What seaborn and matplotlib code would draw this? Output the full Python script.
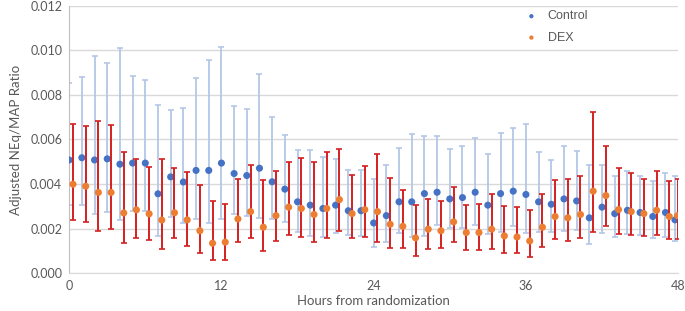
# plot.py
# Adjusted NEq/MAP ratio over the first 48 hours, Control vs DEX
# with per-hour error bars (asymmetric low / high bounds).

import numpy as np
import pandas as pd
import matplotlib
matplotlib.use("Agg")
import matplotlib.pyplot as plt
import seaborn as sns

# ---- data ----
hours = list(range(49))
# x positions as plotted (DEX is nudged right, last points crowd the axis end)
control_x = hours[:48] + [47.75]
dex_x = [h + 0.3 for h in hours[:48]] + [47.95]

control_mean = [0.00508, 0.00518, 0.00508, 0.00513, 0.00489, 0.00494, 0.00494, 0.00356,
                0.00432, 0.00409, 0.00461, 0.00461, 0.00494, 0.00447, 0.00438, 0.00471,
                0.00410, 0.00377, 0.00320, 0.00305, 0.00290, 0.00305, 0.00280, 0.00280,
                0.00225, 0.00258, 0.00320, 0.00320, 0.00357, 0.00363, 0.00333, 0.00339,
                0.00363, 0.00305, 0.00357, 0.00368, 0.00353, 0.00320, 0.00309, 0.00333,
                0.00324, 0.00248, 0.00296, 0.00267, 0.00282, 0.00272, 0.00254, 0.00272,
                0.00239]
control_high = [0.00854, 0.00879, 0.00974, 0.00944, 0.01011, 0.00884, 0.00865, 0.00754,
                0.00731, 0.00740, 0.00874, 0.00959, 0.01016, 0.00749, 0.00738, 0.00896,
                0.00703, 0.00622, 0.00552, 0.00552, 0.00522, 0.00513, 0.00465, 0.00465,
                0.00423, 0.00485, 0.00563, 0.00623, 0.00614, 0.00614, 0.00558, 0.00572,
                0.00605, 0.00533, 0.00629, 0.00653, 0.00670, 0.00543, 0.00509, 0.00572,
                0.00547, 0.00486, 0.00486, 0.00438, 0.00458, 0.00438, 0.00414, 0.00449,
                0.00438]
control_low = [0.00305, 0.00305, 0.00266, 0.00276, 0.00238, 0.00281, 0.00281, 0.00166,
               0.00252, 0.00225, 0.00243, 0.00225, 0.00243, 0.00266, 0.00258, 0.00248,
               0.00245, 0.00230, 0.00186, 0.00167, 0.00162, 0.00182, 0.00171, 0.00167,
               0.00119, 0.00138, 0.00182, 0.00162, 0.00167, 0.00215, 0.00201, 0.00201,
               0.00215, 0.00177, 0.00186, 0.00210, 0.00182, 0.00186, 0.00186, 0.00190,
               0.00195, 0.00129, 0.00182, 0.00162, 0.00177, 0.00171, 0.00158, 0.00162,
               0.00144]

dex_mean = [0.00399, 0.00390, 0.00362, 0.00362, 0.00270, 0.00284, 0.00266, 0.00238,
            0.00271, 0.00239, 0.00190, 0.00134, 0.00139, 0.00243, 0.00276, 0.00206,
            0.00258, 0.00296, 0.00290, 0.00263, 0.00290, 0.00330, 0.00267, 0.00285,
            0.00276, 0.00219, 0.00210, 0.00158, 0.00197, 0.00190, 0.00230, 0.00182,
            0.00182, 0.00197, 0.00167, 0.00162, 0.00144, 0.00206, 0.00254, 0.00248,
            0.00263, 0.00368, 0.00348, 0.00285, 0.00276, 0.00267, 0.00282, 0.00254,
            0.00258]
dex_high = [0.00668, 0.00660, 0.00684, 0.00664, 0.00542, 0.00513, 0.00475, 0.00513,
            0.00470, 0.00456, 0.00395, 0.00322, 0.00309, 0.00421, 0.00485, 0.00420,
            0.00460, 0.00498, 0.00519, 0.00498, 0.00542, 0.00558, 0.00441, 0.00480,
            0.00533, 0.00428, 0.00372, 0.00305, 0.00333, 0.00323, 0.00387, 0.00306,
            0.00310, 0.00354, 0.00300, 0.00296, 0.00282, 0.00354, 0.00417, 0.00423,
            0.00438, 0.00725, 0.00570, 0.00471, 0.00451, 0.00423, 0.00458, 0.00414,
            0.00423]
dex_low = [0.00238, 0.00229, 0.00189, 0.00199, 0.00133, 0.00157, 0.00148, 0.00109,
           0.00157, 0.00123, 0.00090, 0.00058, 0.00058, 0.00139, 0.00158, 0.00100,
           0.00144, 0.00173, 0.00162, 0.00138, 0.00158, 0.00190, 0.00158, 0.00162,
           0.00140, 0.00114, 0.00114, 0.00077, 0.00110, 0.00114, 0.00140, 0.00105,
           0.00105, 0.00110, 0.00092, 0.00092, 0.00072, 0.00119, 0.00153, 0.00144,
           0.00158, 0.00186, 0.00210, 0.00177, 0.00171, 0.00167, 0.00171, 0.00153,
           0.00153]

# long table for seaborn
df = pd.concat([
    pd.DataFrame({"x": control_x, "y": control_mean, "group": "Control"}),
    pd.DataFrame({"x": dex_x, "y": dex_mean, "group": "DEX"}),
])

# ---- style ----
sns.set_style("white")
plt.rcParams["font.family"] = ["Lato", "DejaVu Sans"]
grey = "#595959"

fig = plt.figure(figsize=(6.85, 3.11), dpi=100)
ax = fig.add_axes([0.101, 0.122, 0.889, 0.859])

# error bars first so the dots sit on top
c_mean = np.array(control_mean)
d_mean = np.array(dex_mean)
ax.errorbar(control_x, c_mean,
            yerr=[c_mean - np.array(control_low), np.array(control_high) - c_mean],
            fmt="none", ecolor="#b4c7e7", elinewidth=1.3, capsize=2.5, capthick=1.2, zorder=2)
sns.scatterplot(data=df[df.group == "Control"], x="x", y="y", color="#4472c4",
                s=26, edgecolor="none", ax=ax, zorder=3, label="Control")
ax.errorbar(dex_x, d_mean,
            yerr=[d_mean - np.array(dex_low), np.array(dex_high) - d_mean],
            fmt="none", ecolor="#d42020", elinewidth=1.4, capsize=2.5, capthick=1.2, zorder=4)
sns.scatterplot(data=df[df.group == "DEX"], x="x", y="y", color="#ed7d31",
                s=26, edgecolor="none", ax=ax, zorder=5, label="DEX")

# axes
ax.set_xlim(0, 48)
ax.set_ylim(0, 0.012)
ax.set_xticks([0, 12, 24, 36, 48])
ax.set_yticks(np.arange(0, 0.0121, 0.002))
ax.yaxis.set_major_formatter(matplotlib.ticker.FormatStrFormatter("%.3f"))
ax.tick_params(axis="both", colors=grey, labelsize=9, length=0, pad=5)
ax.yaxis.grid(True, color="#d9d9d9", linewidth=1)
ax.set_axisbelow(True)
for side in ["top", "right"]:
    ax.spines[side].set_visible(False)
ax.spines["left"].set_color("#bfbfbf")
ax.spines["bottom"].set_color("#d9d9d9")

ax.set_xlabel("Hours from randomization", color=grey, fontsize=9.5, labelpad=2)
ax.set_ylabel("Adjusted NEq/MAP Ratio", color=grey, fontsize=9.5, labelpad=6)

leg = ax.legend(loc="upper left", bbox_to_anchor=(0.72, 1.025), frameon=False,
                prop={"family": "Liberation Sans", "size": 9},
                markerscale=0.6, handletextpad=0.3, labelspacing=0.75)
for t in leg.get_texts():
    t.set_color(grey)

fig.savefig("out.png", dpi=100)
